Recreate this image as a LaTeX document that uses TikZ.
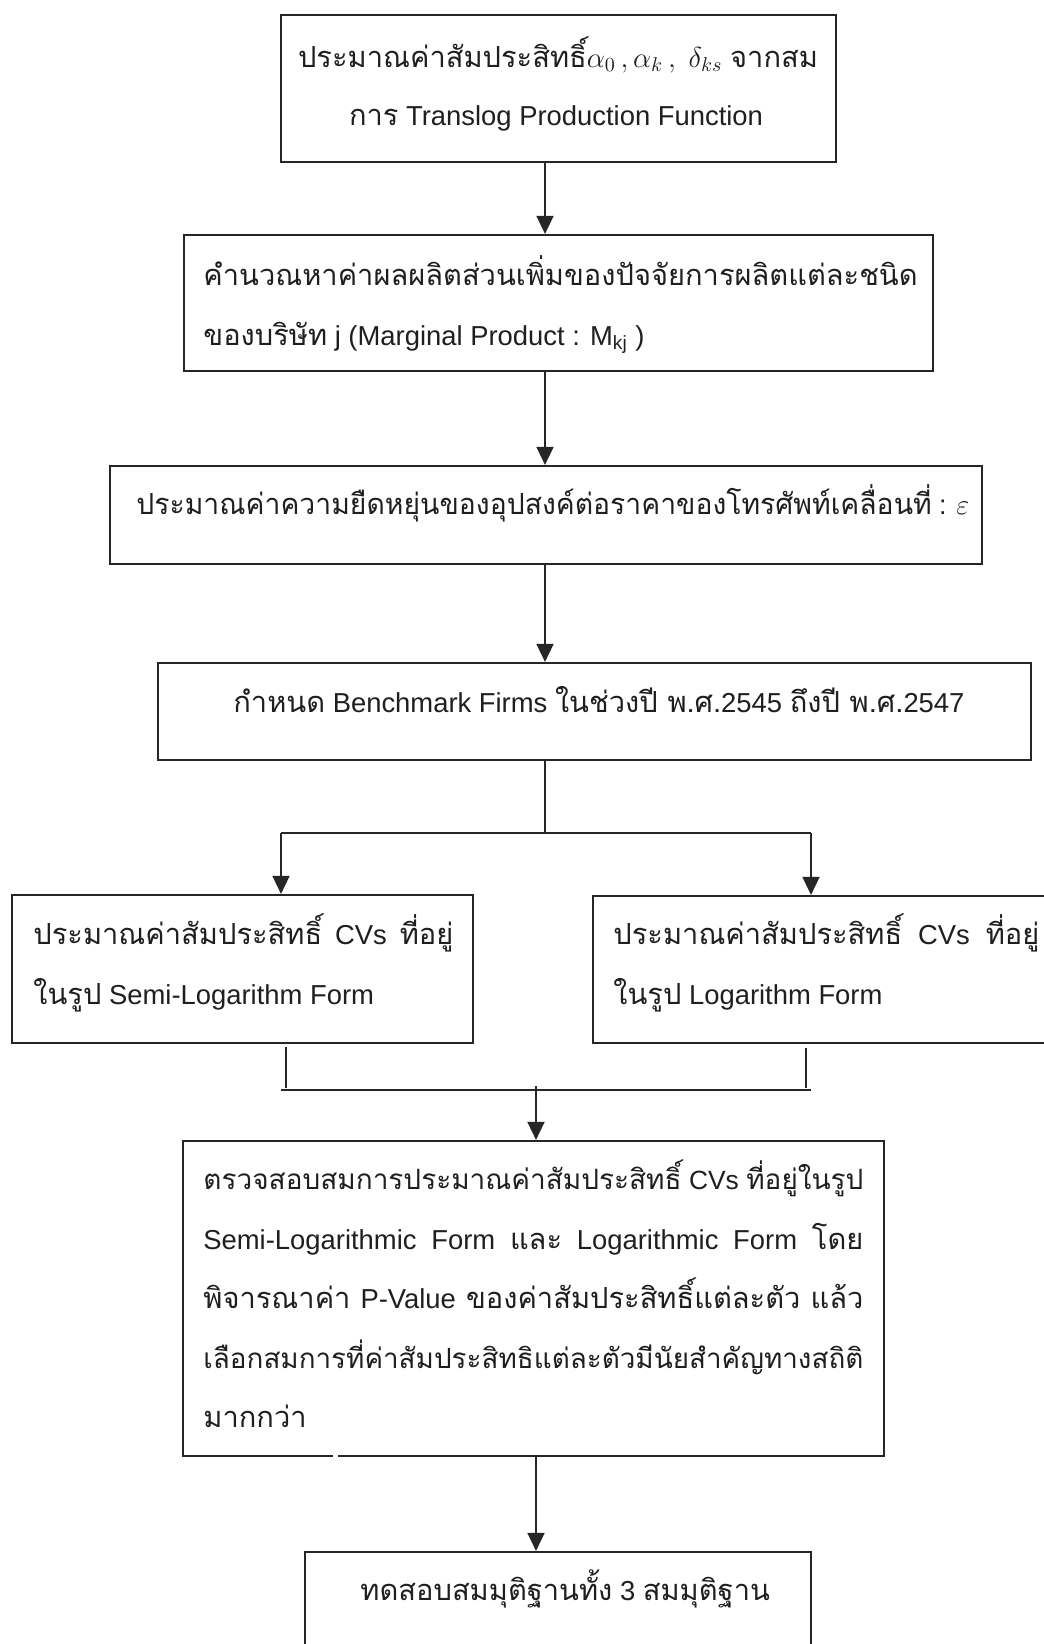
\documentclass[tikz,border=0pt]{standalone}
\usepackage{fontspec}
\setmainfont{Liberation Sans}
\newfontfamily\thaifont[Script=Thai,Scale=1.06]{Loma}
\newcommand\T[1]{{\thaifont #1}}
\usetikzlibrary{arrows.meta,fit}
\begin{document}
\begin{tikzpicture}[x=0.5pt,y=-0.5pt,
  box/.style={draw=black!85, line width=1.1pt, inner sep=0pt},
  ln/.style={draw=black!85, line width=0.8pt},
  arr/.style={ln, -{Triangle[length=9pt,width=8.5pt]}},
  txt/.style={inner sep=0pt, font=\fontsize{13.7pt}{16pt}\selectfont, text=black!88}]
\useasboundingbox (0,0) rectangle (1044,1644);
\fill[white] (0,0) rectangle (1044,1644);
% boxes
\node[box, fit={(281,15) (836,162)}] (b1) {};
\node[box, fit={(184,235) (933,371)}] (b2) {};
\node[box, fit={(110,466) (982,564)}] (b3) {};
\node[box, fit={(158,663) (1031,760)}] (b4) {};
\node[box, fit={(12,895) (473,1043)}] (b5) {};
\node[box, fit={(593,896) (1080,1043)}] (b6) {};
\node[box, fit={(183,1141) (884,1456)}] (b7) {};
\node[box, fit={(305,1552) (811,1700)}] (b8) {};
\fill[white] (333,1452) rectangle (338,1460);
% texts
\node[txt, anchor=base] (t1a) at (558,67) {\T{ประมาณค่าสัมประสิทธิ์}$\alpha_{0}\,,\alpha_{k}\,,\;\delta_{ks}$ \T{จากสม}};
\node[txt, anchor=base] (t1b) at (556,125) {\T{การ} Translog Production Function};
\node[txt, anchor=base west] (t2a) at (203,285) {\T{คำนวณหาค่าผลผลิตส่วนเพิ่มของปัจจัยการผลิตแต่ละชนิด}};
\node[txt, anchor=base west] (t2b) at (203,345) {\T{ของบริษัท} j (Marginal Product : M\textsubscript{kj} )};
\node[txt, anchor=base west] (t3) at (136,514) {\scalebox{0.975}[1]{\T{ประมาณค่าความยืดหยุ่นของอุปสงค์ต่อราคาของโทรศัพท์เคลื่อนที่} : $\varepsilon$}};
\node[txt, anchor=base west] (t4) at (233,712) {\T{กำหนด} Benchmark Firms \T{ในช่วงปี พ.ศ.}2545 \T{ถึงปี พ.ศ.}2547};
\node[txt, anchor=base west] (t5a) at (33,944) {\makebox[210pt][s]{\T{ประมาณค่าสัมประสิทธิ์} CVs \T{ที่อยู่}}};
\node[txt, anchor=base west] (t5b) at (33,1004) {\T{ในรูป} Semi-Logarithm Form};
\node[txt, anchor=base west] (t6a) at (613,944) {\makebox[213pt][s]{\T{ประมาณค่าสัมประสิทธิ์} CVs \T{ที่อยู่}}};
\node[txt, anchor=base west] (t6b) at (613,1004) {\T{ในรูป} Logarithm Form};
\node[txt, anchor=base west] (t7a) at (203,1189) {\resizebox{330pt}{!}{\T{ตรวจสอบสมการประมาณค่าสัมประสิทธิ์} CVs \T{ที่อยู่ในรูป}}};
\node[txt, anchor=base west] (t7b) at (203,1249) {\makebox[330pt][s]{Semi-Logarithmic Form \T{และ} Logarithmic Form \T{โดย}}};
\node[txt, anchor=base west] (t7c) at (203,1308) {\makebox[330pt][s]{\T{พิจารณาค่า} P-Value \T{ของค่าสัมประสิทธิ์แต่ละตัว} \T{แล้ว}}};
\node[txt, anchor=base west] (t7d) at (203,1368) {\resizebox{330pt}{!}{\T{เลือกสมการที่ค่าสัมประสิทธิแต่ละตัวมีนัยสำคัญทางสถิติ}}};
\node[txt, anchor=base west] (t7e) at (203,1427) {\T{มากกว่า}};
\node[txt, anchor=base west] (t8) at (360,1600) {\T{ทดสอบสมมุติฐานทั้ง} 3 \T{สมมุติฐาน}};
% connectors
\coordinate (ax) at (545,0);
\coordinate (bx) at (536,0);
\draw[arr] (b1.south -| ax) -- (b2.north -| ax);
\draw[arr] (b2.south -| ax) -- (b3.north -| ax);
\draw[arr] (b3.south -| ax) -- (b4.north -| ax);
\coordinate (sj) at (545,833);
\coordinate (sl) at (281,833);
\coordinate (sr) at (811,833);
\draw[ln] (b4.south -| ax) -- (sj);
\draw[ln] (sl) -- (sr);
\draw[arr] (sl) -- (sl |- b5.north);
\draw[arr] (sr) -- (sr |- b6.north);
\coordinate (ml1) at (286,1047);
\coordinate (ml2) at (286,1088);
\coordinate (mr1) at (806,1048);
\coordinate (mr2) at (806,1088);
\coordinate (mhl) at (281,1090);
\coordinate (mhr) at (811,1090);
\coordinate (mc) at (536,1086);
\draw[ln] (ml1) -- (ml2);
\draw[ln] (mr1) -- (mr2);
\draw[ln] (mhl) -- (mhr);
\draw[arr] (mc) -- (b7.north -| bx);
\draw[arr] (b7.south -| bx) -- (b8.north -| bx);
\end{tikzpicture}
\end{document}
